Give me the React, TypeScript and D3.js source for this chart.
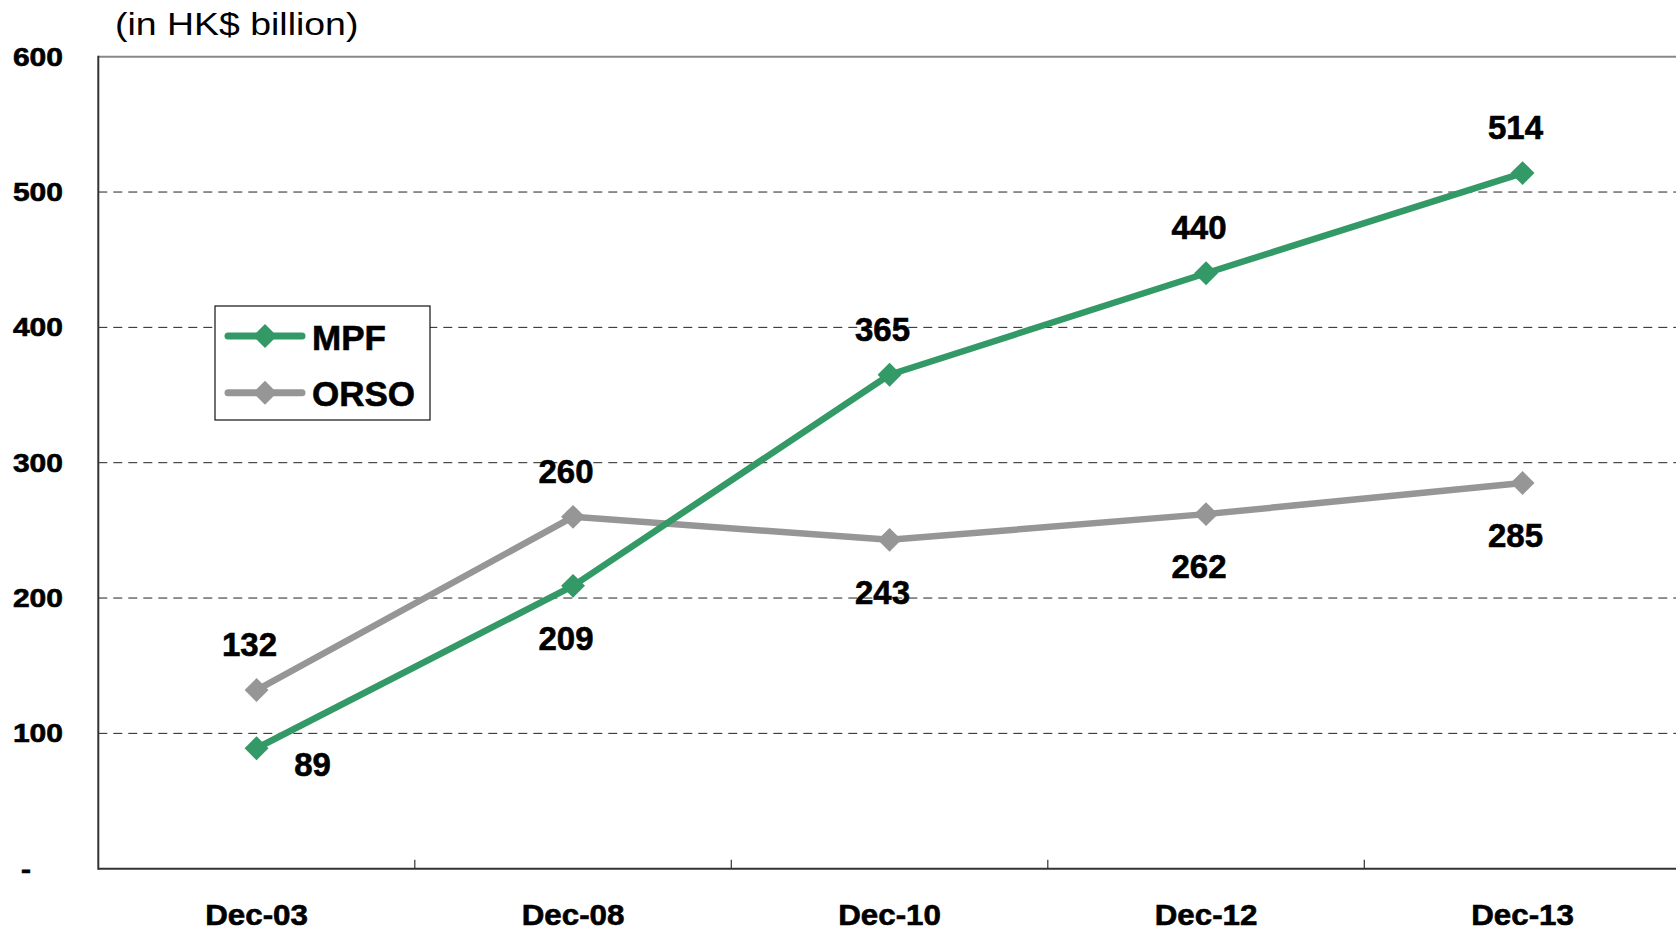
import React from "react";
import * as d3 from "d3";

const categories = ["Dec-03", "Dec-08", "Dec-10", "Dec-12", "Dec-13"];
const mpfValues = [89, 209, 365, 440, 514];
const orsoValues = [132, 260, 243, 262, 285];
const yTicks = [0, 100, 200, 300, 400, 500, 600];
const mpfLabelPlacement = ["right", "below", "above", "above", "above"];
const orsoLabelPlacement = ["above", "above", "below", "below", "below"];
const seriesNames = ["MPF", "ORSO"];

const W = 1676;
const H = 931;
const FONT = "'Liberation Sans', Arial, Helvetica, sans-serif";
const GREEN = "#339966";
const GRAY = "#969696";

const left = 98.3;
const step = 316.5;
const top = 56.7;
const bottom = 868.7;

const x = d3.scaleBand<string>().domain(categories).range([left, left + step * categories.length]).padding(0);
const y = d3.scaleLinear().domain([0, 600]).range([bottom, top]);
const cx = (c: string) => (x(c) as number) + x.bandwidth() / 2;

const diamond = d3.symbol().type(d3.symbolDiamond2).size(2 * 13.5 * 13.5)();

function SText({ x, y, sx = 1, size, weight = "bold", anchor = "middle", children }: any) {
  const bold = weight === "bold";
  return (
    <text
      transform={`translate(${x},${y}) scale(${sx},1)`}
      fontFamily={FONT}
      fontSize={size}
      fontWeight={weight}
      textAnchor={anchor}
      fill="#000"
      stroke={bold ? "#000" : "none"}
      strokeWidth={bold ? 0.6 : 0}
    >
      {children}
    </text>
  );
}

function Series({ values, color }: { values: number[]; color: string }) {
  const line = d3
    .line<number>()
    .x((_, i) => cx(categories[i]))
    .y((v) => y(v));
  return (
    <g>
      <path d={line(values) || ""} fill="none" stroke={color} strokeWidth={6.5} strokeLinejoin="round" />
      {values.map((v, i) => (
        <path key={i} d={diamond || ""} transform={`translate(${cx(categories[i])},${y(v)})`} fill={color} />
      ))}
    </g>
  );
}

function Labels({ values, placement }: { values: number[]; placement: string[] }) {
  const size = 33;
  return (
    <g>
      {values.map((v, i) => {
        const px = cx(categories[i]);
        const py = y(v);
        let lx = px - 7;
        let ly = py;
        if (placement[i] === "above") ly = py - 46;
        else if (placement[i] === "below") ly = py + 52;
        else {
          lx = px + 56;
          ly = py + 16;
        }
        return (
          <SText key={i} x={lx} y={ly + 0.358 * size} size={size}>
            {String(v)}
          </SText>
        );
      })}
    </g>
  );
}

export default function App() {
  const boundaries = d3.range(1, categories.length + 1).map((i) => left + step * i);
  return (
    <svg width={W} height={H} style={{ position: "absolute", left: 0, top: 0, background: "#fff" }}>
      <rect x={0} y={0} width={W} height={H} fill="#fff" />
      {/* title */}
      <SText x={115} y={35} sx={1.17} size={32} weight="normal" anchor="start">
        (in HK$ billion)
      </SText>
      {/* gridlines */}
      {yTicks
        .filter((t) => t > 0 && t < 600)
        .map((t) => (
          <line key={t} x1={left} x2={W} y1={y(t)} y2={y(t)} stroke="#222" strokeWidth={1} strokeDasharray="9,6" />
        ))}
      {/* top border */}
      <line x1={left} x2={W} y1={y(600)} y2={y(600)} stroke="#888" strokeWidth={2} />
      {/* axes */}
      <line x1={left} x2={left} y1={top - 1} y2={bottom + 1} stroke="#333" strokeWidth={2} />
      <line x1={left} x2={W} y1={bottom} y2={bottom} stroke="#333" strokeWidth={2} />
      {boundaries.map((b, i) => (
        <line key={i} x1={b} x2={b} y1={bottom} y2={bottom - 9} stroke="#333" strokeWidth={1.2} />
      ))}
      {/* y tick labels */}
      {yTicks.map((t) => (
        <SText key={t} x={t === 0 ? 31 : 63} y={y(t) + 8.9} sx={1.2} size={25} anchor="end">
          {t === 0 ? "-" : String(t)}
        </SText>
      ))}
      {/* x labels */}
      {categories.map((c) => (
        <SText key={c} x={cx(c)} y={925} sx={1.07} size={29.3}>
          {c}
        </SText>
      ))}
      {/* series */}
      <Series values={orsoValues} color={GRAY} />
      <Series values={mpfValues} color={GREEN} />
      <Labels values={mpfValues} placement={mpfLabelPlacement} />
      <Labels values={orsoValues} placement={orsoLabelPlacement} />
      {/* legend */}
      <g>
        <rect x={215} y={306} width={215} height={114} fill="#fff" stroke="#111" strokeWidth={1.2} />
        {seriesNames.map((n, i) => {
          const ly = 336 + i * 56.7;
          const color = i === 0 ? GREEN : GRAY;
          return (
            <g key={n}>
              <line x1={228} x2={302} y1={ly} y2={ly} stroke={color} strokeWidth={7} strokeLinecap="round" />
              <path d={diamond || ""} transform={`translate(265,${ly})`} fill={color} />
              <SText x={312} y={ly + 13.5} size={35} anchor="start">
                {n}
              </SText>
            </g>
          );
        })}
      </g>
    </svg>
  );
}
